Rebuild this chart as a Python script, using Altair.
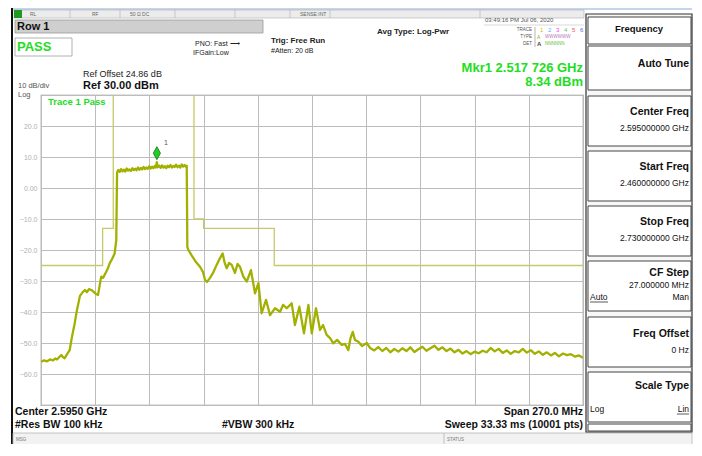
import altair as alt
import pandas as pd

FONT = "Liberation Sans"

# ---------------- data ----------------
x_ticks_mhz = [2460, 2487, 2514, 2541, 2568, 2595, 2622, 2649, 2676, 2703, 2730]
y_ticks_dbm = [30, 20, 10, 0, -10, -20, -30, -40, -50, -60, -70]

trace_freq_mhz = [
    2460.1, 2461.5, 2463.0, 2464.5, 2466.0, 2467.2, 2468.0, 2469.0, 2470.1, 2471.0,
    2471.8, 2473.0, 2474.3, 2475.4, 2476.8, 2477.9, 2479.4, 2480.9, 2481.9, 2482.9,
    2483.9, 2485.1, 2486.4, 2487.4, 2488.4, 2489.1, 2490.0, 2490.9, 2492.5, 2493.4,
    2494.2, 2495.4, 2496.7, 2497.5, 2497.7,
    2497.9, 2498.5, 2499.2, 2499.9, 2500.6, 2501.3, 2502.0, 2502.7, 2503.4, 2504.1,
    2504.8, 2505.5, 2506.2, 2506.9, 2507.6, 2508.3, 2509.0, 2509.7, 2510.4, 2511.1,
    2511.8, 2512.5, 2513.2, 2513.9, 2514.6, 2515.3, 2516.0, 2516.7, 2517.2, 2517.7,
    2518.2, 2518.9, 2519.6, 2520.3, 2521.0, 2521.7, 2522.4, 2523.1, 2523.8, 2524.5,
    2525.2, 2525.9, 2526.6, 2527.3, 2528.0, 2528.7, 2529.4, 2530.1, 2530.8, 2531.5,
    2532.2, 2532.6,
    2532.9, 2533.4, 2535.2, 2537.2, 2539.2, 2540.7, 2541.7, 2542.7, 2544.2, 2545.7,
    2547.5, 2548.7, 2550.5, 2551.4, 2552.5, 2553.7, 2555.0, 2556.6, 2557.9, 2559.1,
    2560.8, 2562.5, 2564.6, 2566.6, 2568.3, 2569.9, 2572.1, 2574.1, 2576.6, 2579.1,
    2580.6, 2582.4, 2584.9, 2586.5, 2588.7, 2591.0, 2593.2, 2594.9, 2597.0, 2599.0,
    2600.5, 2602.3, 2604.0, 2605.6, 2607.5, 2609.8, 2611.5, 2613.1, 2614.2, 2615.3,
    2616.4, 2618.1, 2619.9, 2622.3, 2623.9,
    2626.0, 2628.0, 2630.0, 2632.0, 2634.0, 2636.0, 2638.0, 2640.0, 2642.0, 2644.0,
    2646.0, 2648.0, 2650.0, 2652.0, 2654.0, 2656.0, 2658.0, 2660.0, 2662.0, 2664.0,
    2666.0, 2668.0, 2670.0, 2672.0, 2674.0, 2676.0, 2678.0, 2680.0, 2682.0, 2684.0,
    2686.0, 2688.0, 2690.0, 2692.0, 2694.0, 2696.0, 2698.0, 2700.0, 2702.0, 2704.0,
    2706.0, 2708.0, 2710.0, 2712.0, 2714.0, 2716.0, 2718.0, 2720.0, 2722.0, 2724.0,
    2726.0, 2728.0, 2730.0,
]
trace_level_dbm = [
    -56.0, -55.6, -55.9, -55.3, -55.6, -55.0, -55.3, -54.6, -53.9, -54.6,
    -54.9, -53.6, -52.3, -48.1, -43.6, -39.4, -34.8, -33.5, -32.9, -33.6,
    -32.6, -32.9, -33.6, -34.2, -34.5, -31.9, -28.6, -29.0, -27.0, -25.8,
    -24.3, -22.9, -21.1, -16.8, -5.0,
    5.0, 5.8, 5.2, 6.1, 5.4, 5.9, 5.3, 6.3, 5.6, 6.0,
    5.5, 6.4, 5.8, 6.2, 5.7, 6.6, 5.9, 6.5, 6.0, 6.8,
    6.1, 6.6, 6.2, 7.0, 6.3, 6.9, 6.4, 7.1, 6.6, 8.34,
    6.7, 7.2, 6.5, 7.3, 6.6, 7.0, 6.4, 7.2, 6.7, 7.4,
    6.6, 7.1, 6.8, 7.5, 6.7, 7.2, 6.6, 7.6, 6.9, 7.4,
    6.8, 7.2,
    -19.0, -20.0, -21.9, -23.9, -25.4, -27.1, -29.7, -30.3, -29.0, -27.4,
    -24.8, -23.2, -21.1, -23.9, -25.9, -24.2, -24.8, -27.4, -24.5, -25.4,
    -28.6, -30.2, -26.5, -34.0, -30.7, -40.4, -36.1, -41.0, -38.8, -39.9,
    -37.7, -38.8, -37.2, -44.2, -38.3, -46.9, -37.7, -46.9, -38.8, -45.8,
    -44.2, -47.4, -48.4, -50.1, -49.0, -50.6, -50.3, -52.3, -48.4, -46.4,
    -49.0, -49.6, -51.0, -50.0, -51.6,
    -52.4, -51.3, -52.6, -51.6, -53.0, -51.9, -52.8, -51.7, -52.6, -51.4,
    -52.9, -52.0, -51.2, -52.5, -51.7, -50.9, -52.2, -51.4, -52.6, -51.8,
    -53.0, -52.2, -53.4, -52.6, -53.6, -52.8, -53.3, -52.5, -53.0, -51.6,
    -52.7, -51.9, -53.2, -52.4, -53.5, -52.6, -53.0, -51.9, -53.1, -52.3,
    -53.5, -52.7, -53.8, -53.0, -54.0, -53.2, -54.3, -53.4, -53.9, -53.6,
    -54.4, -54.0, -54.8,
]

mask_segment = ["L", "L", "L", "L", "L", "R", "R", "R", "R", "R", "R", "R"]
mask_freq_mhz = [2460.0, 2490.7, 2490.7, 2496.0, 2496.0,
                 2536.2, 2536.2, 2541.0, 2541.0, 2576.2, 2576.2, 2730.0]
mask_level_dbm = [-25, -25, -13, -13, 30,
                  30, -10, -10, -13, -13, -25, -25]

marker_freq_mhz = [2517.726]
marker_level_dbm = [8.34]

trace_df = pd.DataFrame({"f": trace_freq_mhz, "db": trace_level_dbm})
mask_df = pd.DataFrame({"seg": mask_segment, "f": mask_freq_mhz, "db": mask_level_dbm})
marker_df = pd.DataFrame({"f": marker_freq_mhz, "db": marker_level_dbm})

# ---------------- geometry ----------------
OX, OY = 41, 95          # page position of the plot area's top-left corner
PW, PH = 542, 310

TRACE_COL = "#a2b000"
MASK_COL = "#c6c968"
GREEN = "#22dd22"

xenc = alt.X("f:Q", scale=alt.Scale(domain=[2460, 2730], nice=False, zero=False),
             axis=alt.Axis(values=x_ticks_mhz, grid=True, labels=False, ticks=False,
                           domain=False, title=None, gridColor="#bcbcbc"))
yenc = alt.Y("db:Q", scale=alt.Scale(domain=[-70, 30], nice=False, zero=False),
             axis=alt.Axis(values=y_ticks_dbm, grid=True, ticks=False, domain=False,
                           title=None, gridColor="#bcbcbc", labelColor="#b0b0b0",
                           labelFontSize=7, labelPadding=4, labelFont=FONT,
                           labelExpr="datum.value >= 30 || datum.value <= -70 ? '' : "
                                     "(datum.value == 0 ? '0.00' : format(datum.value, '.1f'))"))

one = alt.Data(values=[{"k": 1}])


def T(text, X, Y, size=9, weight="normal", color="#111111", align="left", font=FONT):
    return alt.Chart(one).mark_text(
        text=text, fontSize=size, fontWeight=weight, color=color, align=align,
        baseline="middle", font=font
    ).encode(x=alt.value(X - OX), y=alt.value(Y - OY))


def R(X1, Y1, X2, Y2, fill="none", stroke=None, sw=1.0):
    kw = dict(fill=fill, strokeWidth=sw)
    if stroke:
        kw["stroke"] = stroke
    return alt.Chart(one).mark_rect(**kw).encode(
        x=alt.value(X1 - OX), x2=alt.value(X2 - OX),
        y=alt.value(Y1 - OY), y2=alt.value(Y2 - OY))


def H(X1, X2, Y, color="#333333", sw=1.0):
    return alt.Chart(one).mark_rule(color=color, strokeWidth=sw).encode(
        x=alt.value(X1 - OX), x2=alt.value(X2 - OX), y=alt.value(Y - OY))


def V(X, Y1, Y2, color="#333333", sw=1.0):
    return alt.Chart(one).mark_rule(color=color, strokeWidth=sw).encode(
        x=alt.value(X - OX), y=alt.value(Y1 - OY), y2=alt.value(Y2 - OY))


RIGHT = 692   # right edge of the drawable page area
KX = 689      # right-aligned soft-key text anchor

deco = []
# window chrome
deco.append(R(12, 8, RIGHT, 10, fill="#c5d5ea"))
deco.append(R(14, 10, 584, 18, fill="#ececec", stroke="#b0b0b0", sw=0.6))
deco.append(R(14, 10, 22, 18, fill="#1e9a1e"))
for xd in [70, 120, 175, 235, 290, 330, 480]:
    deco.append(V(xd, 10, 18, color="#b0b0b0", sw=0.6))
deco.append(T("RL", 30, 14, size=5, color="#666666"))
deco.append(T("RF", 92, 14, size=5, color="#666666"))
deco.append(T("50 Ω  DC", 130, 14, size=5, color="#666666"))
deco.append(T("SENSE:INT", 300, 14, size=5, color="#666666"))
deco.append(V(12, 8, 452, color="#111111", sw=2))

# Row 1 / PASS
deco.append(R(15, 20, 263, 33, fill="#cfcfcf", stroke="#9a9a9a", sw=0.8))
deco.append(T("Row 1", 17, 27, size=11, weight="bold", color="#111111"))
deco.append(R(15, 38, 72, 56, fill="white", stroke="#a0a0a0", sw=0.8))
deco.append(T("PASS", 17, 47, size=13, weight="bold", color=GREEN))

deco.append(T("PNO: Fast  ⟶", 195, 44, size=7, color="#222222"))
deco.append(T("IFGain:Low", 193, 53, size=7, color="#222222"))
deco.append(T("Trig: Free Run", 271, 41, size=8, weight="bold", color="#222222"))
deco.append(T("#Atten: 20 dB", 271, 51, size=7, color="#222222"))
deco.append(T("Avg Type: Log-Pwr", 377, 32, size=8, weight="bold", color="#222222"))
deco.append(T("03:49:16 PM Jul 06, 2020", 485, 20, size=6, color="#555555"))
deco.append(H(484, 584, 25, color="#c0c0c0", sw=0.6))
deco.append(T("TRACE", 532, 30, size=4.5, color="#555555", align="right"))
deco.append(T("TYPE", 532, 37, size=4.5, color="#555555", align="right"))
deco.append(T("DET", 532, 44, size=4.5, color="#555555", align="right"))
deco.append(V(535, 27, 47, color="#888888", sw=0.6))
trace_nums = [("1", "#e0c000"), ("2", "#44bbee"), ("3", "#ee44ee"), ("4", "#66cc66"),
              ("5", "#ee5555"), ("6", "#5566ee")]
for i, (n, c) in enumerate(trace_nums):
    deco.append(T(n, 540 + i * 8, 30, size=6, color=c))
deco.append(T("A", 537, 37, size=5, color="#b0a000"))
deco.append(T("WWWWWW", 545, 37, size=4.5, color="#bb77bb"))
deco.append(T("A", 537, 44, size=6, weight="bold", color="#444444"))
deco.append(T("NNNNNN", 545, 44, size=4.5, color="#66bb44"))

deco.append(T("Mkr1 2.517 726 GHz", 583, 68, size=13, weight="bold", color=GREEN, align="right"))
deco.append(T("8.34 dBm", 583, 82, size=13, weight="bold", color=GREEN, align="right"))

deco.append(T("Ref Offset 24.86 dB", 83, 74, size=9, color="#222222"))
deco.append(T("Ref 30.00 dBm", 83, 86, size=11, weight="bold", color="#111111"))
deco.append(T("10 dB/div", 18, 86, size=7.5, color="#555555"))
deco.append(T("Log", 18, 94.5, size=7.5, color="#555555"))

# bottom annotation
deco.append(T("Center 2.5950 GHz", 15, 412, size=10.5, weight="bold", color="#111111"))
deco.append(T("#Res BW 100 kHz", 15, 425, size=10.5, weight="bold", color="#111111"))
deco.append(T("#VBW 300 kHz", 222, 425, size=10.5, weight="bold", color="#111111"))
deco.append(T("Span 270.0 MHz", 583, 412, size=10.5, weight="bold", color="#111111", align="right"))
deco.append(T("Sweep  33.33 ms (10001 pts)", 583, 425, size=10.5, weight="bold",
              color="#111111", align="right"))
deco.append(R(13, 433, RIGHT, 447, fill="#f2f2f2", stroke="#b5b5b5", sw=0.8))
deco.append(V(444, 433, 447, color="#b5b5b5", sw=0.8))
deco.append(T("MSG", 16, 440, size=4.5, color="#777777"))
deco.append(T("STATUS", 447, 440, size=4.5, color="#777777"))

# soft-key panel
deco.append(R(586, 14, RIGHT, 432, fill="#f7f7f7", stroke="#333333", sw=1.2))
keys = [(17, 44), (46, 90), (96, 146), (151, 201), (206, 256), (261, 311), (317, 367),
        (372, 422), (424, 431)]
for y1, y2 in keys:
    deco.append(R(588, y1, RIGHT - 1, y2, fill="white", stroke="#444444", sw=1.0))
deco.append(T("Frequency", 639, 29, size=9.5, weight="bold", color="#111111", align="center"))
deco.append(T("Auto Tune", KX, 64, size=10.5, weight="bold", color="#111111", align="right"))
deco.append(T("Center Freq", KX, 112, size=10.5, weight="bold", color="#111111", align="right"))
deco.append(T("2.595000000 GHz", KX, 128, size=8.5, color="#111111", align="right"))
deco.append(T("Start Freq", KX, 167, size=10.5, weight="bold", color="#111111", align="right"))
deco.append(T("2.460000000 GHz", KX, 183, size=8.5, color="#111111", align="right"))
deco.append(T("Stop Freq", KX, 222, size=10.5, weight="bold", color="#111111", align="right"))
deco.append(T("2.730000000 GHz", KX, 238, size=8.5, color="#111111", align="right"))
deco.append(T("CF Step", KX, 273, size=10.5, weight="bold", color="#111111", align="right"))
deco.append(T("27.000000 MHz", KX, 285, size=8.5, color="#111111", align="right"))
deco.append(T("Auto", 590, 297, size=8.5, color="#111111"))
deco.append(H(590, 608, 302, color="#111111", sw=0.7))
deco.append(T("Man", KX, 297, size=8.5, color="#111111", align="right"))
deco.append(T("Freq Offset", KX, 334, size=10.5, weight="bold", color="#111111", align="right"))
deco.append(T("0 Hz", KX, 350, size=8.5, color="#111111", align="right"))
deco.append(T("Scale Type", KX, 386, size=10.5, weight="bold", color="#111111", align="right"))
deco.append(T("Log", 590, 409, size=8.5, color="#111111"))
deco.append(T("Lin", KX, 409, size=8.5, color="#111111", align="right"))
deco.append(H(KX - 12, KX, 414, color="#111111", sw=0.7))

# ---------------- data layers ----------------
mask = alt.Chart(mask_df).mark_line(color=MASK_COL, strokeWidth=1.3, clip=True).encode(
    x=xenc, y=yenc, detail="seg:N", order=alt.Order("idx:Q")
).transform_window(idx="row_number()", groupby=["seg"])

trace = alt.Chart(trace_df).mark_line(color=TRACE_COL, strokeWidth=2.3, clip=True,
                                       strokeJoin="round").encode(x=xenc, y=yenc)

marker_shape = "M0,-1L0.55,0L0,1L-0.55,0Z"
marker = alt.Chart(marker_df).mark_point(
    shape=marker_shape, size=170, filled=True, fill="#22cc22", stroke="#117711",
    strokeWidth=0.8, opacity=1, yOffset=-9
).encode(x=xenc, y=yenc)
marker_lbl = alt.Chart(marker_df).mark_text(
    text="1", fontSize=7, color="#555555", dx=9, dy=-19, font=FONT
).encode(x=xenc, y=yenc)

trace_pass = T("Trace 1 Pass", 48, 102, size=9.5, weight="bold", color=GREEN)

chart = alt.layer(
    *deco, mask, trace, marker, marker_lbl, trace_pass
).properties(
    width=PW, height=PH,
    padding={"left": 33, "top": 87, "right": 111, "bottom": 39},
    autosize=alt.AutoSizeParams(type="none"),
    background="white",
).configure_view(stroke="#8c8c8c", strokeWidth=1.2, fill="white")

chart.save("out.html", embed_options={"renderer": "svg", "actions": False})
